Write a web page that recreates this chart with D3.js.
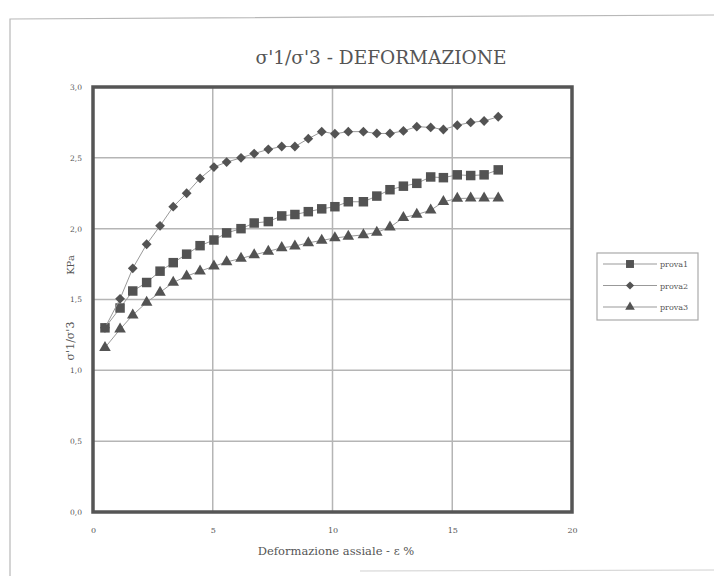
<!DOCTYPE html>
<html>
<head>
<meta charset="utf-8">
<script src="https://cdn.jsdelivr.net/npm/d3@7"></script>
<style>
  html, body { margin: 0; padding: 0; background: #fff; }
  svg { display: block; }
  text { font-family: "DejaVu Serif", "Liberation Serif", serif; fill: #555; }
</style>
</head>
<body>
<script>
// Axial strain readings (%), shared by the three specimens
const strain = [0.5, 1.13, 1.66, 2.24, 2.8, 3.35, 3.91, 4.47, 5.05, 5.58,
                6.18, 6.73, 7.32, 7.88, 8.43, 8.99, 9.55, 10.1, 10.66, 11.29,
                11.85, 12.4, 12.96, 13.52, 14.1, 14.63, 15.21, 15.77, 16.33, 16.92];

// Principal stress ratio σ'1/σ'3 for each specimen
const prova1 = [1.30, 1.44, 1.56, 1.62, 1.70, 1.76, 1.82, 1.88, 1.92, 1.97,
                2.00, 2.04, 2.05, 2.09, 2.10, 2.12, 2.14, 2.155, 2.19, 2.19,
                2.23, 2.275, 2.30, 2.32, 2.365, 2.36, 2.38, 2.375, 2.38, 2.415];
const prova2 = [1.30, 1.505, 1.72, 1.89, 2.02, 2.155, 2.25, 2.355, 2.435, 2.47,
                2.50, 2.53, 2.56, 2.58, 2.58, 2.635, 2.685, 2.67, 2.685, 2.685,
                2.672, 2.672, 2.69, 2.72, 2.715, 2.70, 2.73, 2.75, 2.76, 2.79];
const prova3 = [1.16, 1.29, 1.39, 1.48, 1.55, 1.62, 1.665, 1.70, 1.735, 1.765,
                1.79, 1.815, 1.84, 1.865, 1.877, 1.90, 1.917, 1.934, 1.946, 1.956,
                1.974, 2.01, 2.078, 2.10, 2.13, 2.19, 2.213, 2.215, 2.215, 2.215];

const seriesNames = ["prova1", "prova2", "prova3"];
const seriesShapes = [d3.symbolSquare, d3.symbolSquare, d3.symbolTriangle];
const seriesRotate = [0, 45, 0];
const seriesSizes = [90, 48, 58];

const xTicks = [0, 5, 10, 15, 20];
const xTickLabels = ["0", "5", "10", "15", "20"];
const yTicks = [0, 0.5, 1.0, 1.5, 2.0, 2.5, 3.0];
const yTickLabels = ["0,0", "0,5", "1,0", "1,5", "2,0", "2,5", "3,0"];

const titleText = "σ'1/σ'3 - DEFORMAZIONE";
const xTitle = "Deformazione assiale - ε %";
const yTitleA = "σ'1/σ'3";
const yTitleB = "KPa";

const W = 714, H = 576;
const plot = { left: 93, right: 572, top: 87, bottom: 512 };

const svg = d3.select("body").append("svg").attr("width", W).attr("height", H);

// outer frame of the chart sheet
svg.append("path")
  .attr("d", "M10,576 L10,19 L714,15")
  .attr("fill", "none").attr("stroke", "#b8b8b8").attr("stroke-width", 1.2);
svg.append("line")
  .attr("x1", 360).attr("x2", 714).attr("y1", 571).attr("y2", 570)
  .attr("stroke", "#d0d0d0").attr("stroke-width", 1);

const x = d3.scaleLinear().domain([0, 20]).range([plot.left, plot.right]);
const y = d3.scaleLinear().domain([0, 3]).range([plot.bottom, plot.top]);

// gridlines
const grid = svg.append("g");
grid.selectAll("line.h").data(yTicks.slice(1, -1)).enter().append("line")
  .attr("x1", plot.left).attr("x2", plot.right)
  .attr("y1", d => y(d)).attr("y2", d => y(d))
  .attr("stroke", "#b5b5b5").attr("stroke-width", 1.5);
grid.selectAll("line.v").data(xTicks.slice(1, -1)).enter().append("line")
  .attr("y1", plot.top).attr("y2", plot.bottom)
  .attr("x1", d => x(d)).attr("x2", d => x(d))
  .attr("stroke", "#b5b5b5").attr("stroke-width", 1.5);

// axes (labels only; the frame is drawn separately)
const xAxis = svg.append("g").attr("transform", `translate(0,${plot.bottom + 12})`)
  .call(d3.axisBottom(x).tickValues(xTicks).tickFormat((d, i) => xTickLabels[i]).tickSize(0));
xAxis.select(".domain").remove();
xAxis.selectAll("text").attr("font-size", 8).attr("font-family", "DejaVu Serif, serif").attr("fill", "#777");

const yAxis = svg.append("g").attr("transform", `translate(${plot.left - 8},0)`)
  .call(d3.axisLeft(y).tickValues(yTicks).tickFormat((d, i) => yTickLabels[i]).tickSize(0));
yAxis.select(".domain").remove();
yAxis.selectAll("text").attr("font-size", 7.5).attr("font-family", "DejaVu Serif, serif").attr("fill", "#777");

// series
const allSeries = [prova1, prova2, prova3];
const line = d3.line().x((d, i) => x(strain[i])).y(d => y(d));
allSeries.forEach((vals, k) => {
  const g = svg.append("g");
  g.append("path").datum(vals).attr("d", line)
    .attr("fill", "none").attr("stroke", "#999").attr("stroke-width", 1);
  g.selectAll("path.m").data(vals).enter().append("path")
    .attr("d", d3.symbol().type(seriesShapes[k]).size(seriesSizes[k]))
    .attr("transform", (d, i) => `translate(${x(strain[i])},${y(d)}) rotate(${seriesRotate[k]})`)
    .attr("fill", "#535353");
});

// plot frame
svg.append("rect")
  .attr("x", plot.left).attr("y", plot.top)
  .attr("width", plot.right - plot.left).attr("height", plot.bottom - plot.top)
  .attr("fill", "none").attr("stroke", "#555").attr("stroke-width", 3.5);

// title
svg.append("text").attr("x", 381).attr("y", 64).attr("text-anchor", "middle")
  .attr("font-size", 18.5).text(titleText);

// axis titles
svg.append("text").attr("x", 336).attr("y", 555).attr("text-anchor", "middle")
  .attr("font-size", 11.5).text(xTitle);
svg.append("text").attr("transform", "translate(74,341) rotate(-90)")
  .attr("text-anchor", "middle").attr("font-size", 11).text(yTitleA);
svg.append("text").attr("transform", "translate(74,265) rotate(-90)")
  .attr("text-anchor", "middle").attr("font-size", 10).text(yTitleB);

// legend
const lg = svg.append("g").attr("transform", "translate(597,253)");
lg.append("rect").attr("width", 101).attr("height", 67)
  .attr("fill", "#fff").attr("stroke", "#aaa").attr("stroke-width", 1.2);
seriesNames.forEach((name, k) => {
  const yy = 11 + k * 21.5;
  lg.append("line").attr("x1", 6).attr("x2", 60).attr("y1", yy).attr("y2", yy)
    .attr("stroke", "#999").attr("stroke-width", 1);
  lg.append("path").attr("d", d3.symbol().type(seriesShapes[k]).size(seriesSizes[k] * 0.7))
    .attr("transform", `translate(33,${yy}) rotate(${seriesRotate[k]})`).attr("fill", "#535353");
  lg.append("text").attr("x", 63).attr("y", yy + 3).attr("font-size", 8).attr("fill", "#777").text(name);
});
</script>
</body>
</html>
